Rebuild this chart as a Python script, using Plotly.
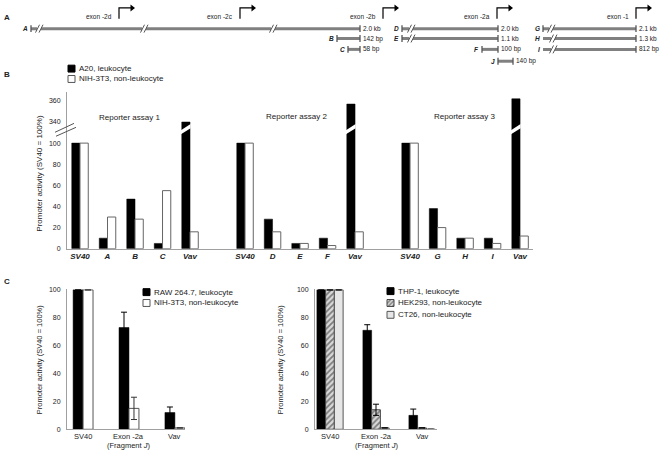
import plotly.graph_objects as go

W, H = 661, 454
FONT = "Arial, Liberation Sans, sans-serif"
TXT = "#222222"
AXC = "#a0a0a0"

# ---------------- Panel A: promoter fragments (schematic map coordinates) ----------------
frag_names = ["A", "B", "C", "D", "E", "F", "J", "G", "H", "I"]
frag_start = [31, 337, 348, 402, 402, 482, 498, 543, 543, 543]
frag_end = [360, 360, 360, 498, 498, 498, 513, 636, 636, 636]
frag_row = [26, 36, 47, 26, 36, 47, 59, 26, 36, 47]
frag_size = ["2.0 kb", "142 bp", "58 bp", "2.0 kb", "1.1 kb", "100 bp", "140 bp", "2.1 kb", "1.3 kb", "812 bp"]
frag_left_cap = [True, True, True, True, True, True, True, True, False, False]
break_frag = ["A", "A", "A", "D", "E", "G", "H", "I"]
break_pos = [38, 143, 272, 410, 410, 550, 552, 552]
exon_names = ["exon -2d", "exon -2c", "exon -2b", "exon -2a", "exon -1"]
exon_tss = [119, 240, 383, 497, 636]

# ---------------- Panel B: reporter assays ----------------
assay_names = ["Reporter assay 1", "Reporter assay 2", "Reporter assay 3"]
assay_constructs = [["SV40", "A", "B", "C", "Vav"],
                    ["SV40", "D", "E", "F", "Vav"],
                    ["SV40", "G", "H", "I", "Vav"]]
a20_values = [[100, 10, 47, 5, 340], [100, 28, 5, 10, 357], [100, 38, 10, 10, 362]]
nih_values = [[100, 30, 28, 55, 16], [100, 16, 5, 3, 16], [100, 20, 10, 5, 12]]
b_tick_values = [0, 20, 40, 60, 80, 100, 340, 360]

# ---------------- Panel C ----------------
c_categories = [["SV40"], ["Exon -2a", "(Fragment <i>J</i>)"], ["Vav"]]
raw_values = [100, 73, 12]
raw_err = [0, 11, 4]
nihc_values = [100, 15, 1]
nihc_err = [0, 8, 0]
thp_values = [100, 71, 10]
thp_err = [0, 4, 4.5]
hek_values = [100, 14, 1]
hek_err = [0, 4, 0]
ct26_values = [100, 1, 0]
ct26_err = [0, 0, 0]
c_ticks = [0, 20, 40, 60, 80, 100]


def dom_x(a, b):
    return [a / W, b / W]


def dom_y(top, bottom):
    return [1 - bottom / H, 1 - top / H]


def brk(v):
    # broken axis: 100 -> 100, 340 -> 120
    return v if v <= 100 else v - 220


fig = go.Figure()

# ---------- Panel B bars ----------
slots, labels, a20d, nihd = [], [], [], []
for g, cons in enumerate(assay_constructs):
    for i, c in enumerate(cons):
        slots.append(g * 6 + i)
        labels.append("<b><i>%s</i></b>" % c)
        a20d.append(brk(a20_values[g][i]))
        nihd.append(brk(nih_values[g][i]))

fig.add_trace(go.Bar(x=slots, y=a20d, width=0.3, offset=-0.3,
                     marker=dict(color="black", line=dict(color="black", width=0.5)),
                     xaxis="x", yaxis="y", showlegend=False))
fig.add_trace(go.Bar(x=slots, y=nihd, width=0.3, offset=0,
                     marker=dict(color="white", line=dict(color="#666666", width=1)),
                     xaxis="x", yaxis="y", showlegend=False))

shapes = []
for g, cons in enumerate(assay_constructs):
    s = g * 6 + cons.index("Vav")
    shapes.append(dict(type="path", xref="x", yref="y",
                       path="M %f,108.4 L %f,114.2 L %f,118.0 L %f,112.2 Z" % (s - 0.33, s + 0.02, s + 0.02, s - 0.33),
                       fillcolor="white", line=dict(width=0), layer="above"))

# ---------- Panel C left ----------
wl = 0.217
fig.add_trace(go.Bar(x=[0, 1, 2], y=raw_values, width=wl, offset=-wl,
                     error_y=dict(type="data", array=raw_err, color="black", thickness=1, width=3),
                     marker=dict(color="black", line=dict(color="black", width=0.5)),
                     xaxis="x2", yaxis="y2", showlegend=False))
fig.add_trace(go.Bar(x=[0, 1, 2], y=nihc_values, width=wl, offset=0,
                     error_y=dict(type="data", array=nihc_err, color="#333333", thickness=1, width=3),
                     marker=dict(color="white", line=dict(color="#555555", width=1)),
                     xaxis="x2", yaxis="y2", showlegend=False))

# ---------- Panel C right ----------
wr = 0.19
hatch = dict(shape="/", fgcolor="#222222", bgcolor="#d8d8d8", size=4, solidity=0.45)
fig.add_trace(go.Bar(x=[0, 1, 2], y=thp_values, width=wr, offset=-1.5 * wr,
                     error_y=dict(type="data", array=thp_err, color="black", thickness=1, width=3),
                     marker=dict(color="black", line=dict(color="black", width=0.5)),
                     xaxis="x3", yaxis="y3", showlegend=False))
fig.add_trace(go.Bar(x=[0, 1, 2], y=hek_values, width=wr, offset=-0.5 * wr,
                     error_y=dict(type="data", array=hek_err, color="black", thickness=1, width=3),
                     marker=dict(color="#d8d8d8", pattern=hatch, line=dict(color="#444444", width=1)),
                     xaxis="x3", yaxis="y3", showlegend=False))
fig.add_trace(go.Bar(x=[0, 1, 2], y=ct26_values, width=wr, offset=0.5 * wr,
                     error_y=dict(type="data", array=ct26_err, color="black", thickness=1, width=3),
                     marker=dict(color="#e6e6e6", line=dict(color="#555555", width=1)),
                     xaxis="x3", yaxis="y3", showlegend=False))

# ---------- Overlay (panel A schematic, legends, axis break) ----------
ov = dict(xaxis="x4", yaxis="y4", showlegend=False, hoverinfo="skip")
lx, ly = [], []
for i in range(len(frag_names)):
    lx += [frag_start[i], frag_end[i], None]
    ly += [frag_row[i], frag_row[i], None]
fig.add_trace(go.Scatter(x=lx, y=ly, mode="lines", line=dict(color="#808080", width=3), **ov))

cx, cy = [], []
for i in range(len(frag_names)):
    ends = [frag_end[i]] + ([frag_start[i]] if frag_left_cap[i] else [])
    for e in ends:
        cx += [e, e, None]
        cy += [frag_row[i] - 3.5, frag_row[i] + 3.5, None]
fig.add_trace(go.Scatter(x=cx, y=cy, mode="lines", line=dict(color="#555555", width=1.3), **ov))

gx, gy, sx, sy = [], [], [], []
for f, b in zip(break_frag, break_pos):
    y0 = frag_row[frag_names.index(f)]
    gx += [b - 1, b + 3, None]
    gy += [y0, y0, None]
    sx += [b - 2.5, b + 1.5, None, b + 1, b + 5, None]
    sy += [y0 + 4, y0 - 4, None, y0 + 4, y0 - 4, None]
fig.add_trace(go.Scatter(x=gx, y=gy, mode="lines", line=dict(color="white", width=4), **ov))
fig.add_trace(go.Scatter(x=sx, y=sy, mode="lines", line=dict(color="#555555", width=1), **ov))

ax_, ay_ = [], []
for t in exon_tss:
    ax_ += [t, t, t + 12, None]
    ay_ += [16, 5, 5, None]
fig.add_trace(go.Scatter(x=ax_, y=ay_, mode="lines", line=dict(color="black", width=1.2), **ov))
fig.add_trace(go.Scatter(x=[t + 13 for t in exon_tss], y=[5] * len(exon_tss), mode="markers",
                         marker=dict(symbol="triangle-right", size=6, color="black"), **ov))

# y-axis break marks on panel B
fig.add_trace(go.Scatter(x=[55, 74, None, 56, 76], y=[131, 122, None, 135, 126], mode="lines",
                         line=dict(color="#555555", width=1), **ov))

# legend swatches
legend_items = [
    ("A20, leukocyte", 68, 63, "black", None, "black"),
    ("NIH-3T3, non-leukocyte", 68, 73.5, "white", None, "#555555"),
    ("RAW 264.7, leukocyte", 143, 289.5, "black", None, "black"),
    ("NIH-3T3, non-leukocyte", 143, 300.5, "white", None, "#555555"),
    ("THP-1, leukocyte", 387, 288.5, "black", None, "black"),
    ("HEK293, non-leukocyte", 387, 300.5, "#d8d8d8",
     dict(shape="/", fgcolor="#222222", bgcolor="#d8d8d8", size=3, solidity=0.45), "#444444"),
    ("CT26, non-leukocyte", 387, 312.5, "#e6e6e6", None, "#555555"),
]
annotations = []
for text, xl, yt, fill, pat, lc in legend_items:
    mk = dict(color=fill, line=dict(color=lc, width=1))
    if pat:
        mk["pattern"] = pat
    fig.add_trace(go.Bar(x=[xl + 3.5], y=[7], base=[yt], width=[7], marker=mk, **ov))
    annotations.append(dict(x=xl + 9, y=yt + 3.5, xref="x4", yref="y4", text=text, showarrow=False,
                            xanchor="left", yanchor="middle", font=dict(size=8, color=TXT, family=FONT)))


# ---------- text annotations ----------
def ann(x, y, text, size=7, xa="center", angle=0, xref="x4"):
    annotations.append(dict(x=x, y=y, xref=xref, yref="y4", text=text, showarrow=False,
                            xanchor=xa, yanchor="middle", textangle=angle, borderpad=0,
                            font=dict(size=size, color=TXT, family=FONT)))


for p, yy in zip(["A", "B", "C"], [15, 72, 282]):
    ann(3, yy, "<b>%s</b>" % p, size=8, xa="left")
for i, n in enumerate(frag_names):
    ann(frag_start[i] - 2, frag_row[i], "<b><i>%s</i></b>" % n, size=6.5, xa="right")
    ann(frag_end[i] + 1.5, frag_row[i], frag_size[i], size=6.5, xa="left")
for n, t in zip(exon_names, exon_tss):
    ann(t - 6, 14, n, size=6.5, xa="right")
for n, (xx, yy) in zip(assay_names, [(129, 116), (296, 115), (464, 115)]):
    ann(xx, yy, n, size=8)
ytitle = "Promoter activity (SV40 = 100%)"
ann(40, 173, ytitle, size=8, angle=-90)
ann(39, 361, ytitle, size=7.5, angle=-90)
ann(280, 361, ytitle, size=7.5, angle=-90)

# panel C category labels
for xr in ["x2", "x3"]:
    for k, lines in enumerate(c_categories):
        for j, line in enumerate(lines):
            ann(k, 439 + 9.5 * j, line, size=7.5, xref=xr)

# ---------- layout ----------
tickf = dict(size=7, color=TXT, family=FONT)
common_y = dict(showgrid=False, zeroline=False, showline=True, linecolor=AXC, linewidth=1,
                ticks="outside", ticklen=4, tickcolor="rgba(0,0,0,0)", tickfont=tickf, fixedrange=True)
common_x = dict(showgrid=False, zeroline=False, showline=True, linecolor=AXC, linewidth=1,
                ticks="", fixedrange=True)

fig.update_layout(
    width=W, height=H, autosize=False,
    margin=dict(l=0, r=0, t=0, b=0),
    paper_bgcolor="white", plot_bgcolor="rgba(0,0,0,0)",
    barmode="overlay", showlegend=False,
    font=dict(family=FONT, color=TXT),
    xaxis=dict(domain=dom_x(67, 533), range=[-0.473, 16.47], anchor="y",
               tickvals=slots, ticktext=labels, tickfont=dict(size=8, color=TXT, family=FONT), **common_x),
    yaxis=dict(domain=dom_y(90, 249), range=[0, 148.6], anchor="x",
               tickvals=[brk(v) for v in b_tick_values], ticktext=[str(v) for v in b_tick_values], **common_y),
    xaxis2=dict(domain=dom_x(67, 185), range=[-0.35, 2.22], anchor="y2", showticklabels=False, **common_x),
    yaxis2=dict(domain=dom_y(290, 432), range=[0, 100.5], anchor="x2", tickvals=c_ticks, **common_y),
    xaxis3=dict(domain=dom_x(315, 437), range=[-0.326, 2.326], anchor="y3", showticklabels=False, **common_x),
    yaxis3=dict(domain=dom_y(290, 432), range=[0, 100.5], anchor="x3", tickvals=c_ticks, **common_y),
    xaxis4=dict(domain=[0, 1], range=[0, W], anchor="y4", visible=False, fixedrange=True),
    yaxis4=dict(domain=[0, 1], range=[H, 0], anchor="x4", visible=False, fixedrange=True),
    shapes=shapes,
    annotations=annotations,
)

fig.write_html("out.html", config={"displayModeBar": False},
               post_script="document.body.style.margin='0';document.body.style.overflow='hidden';")
